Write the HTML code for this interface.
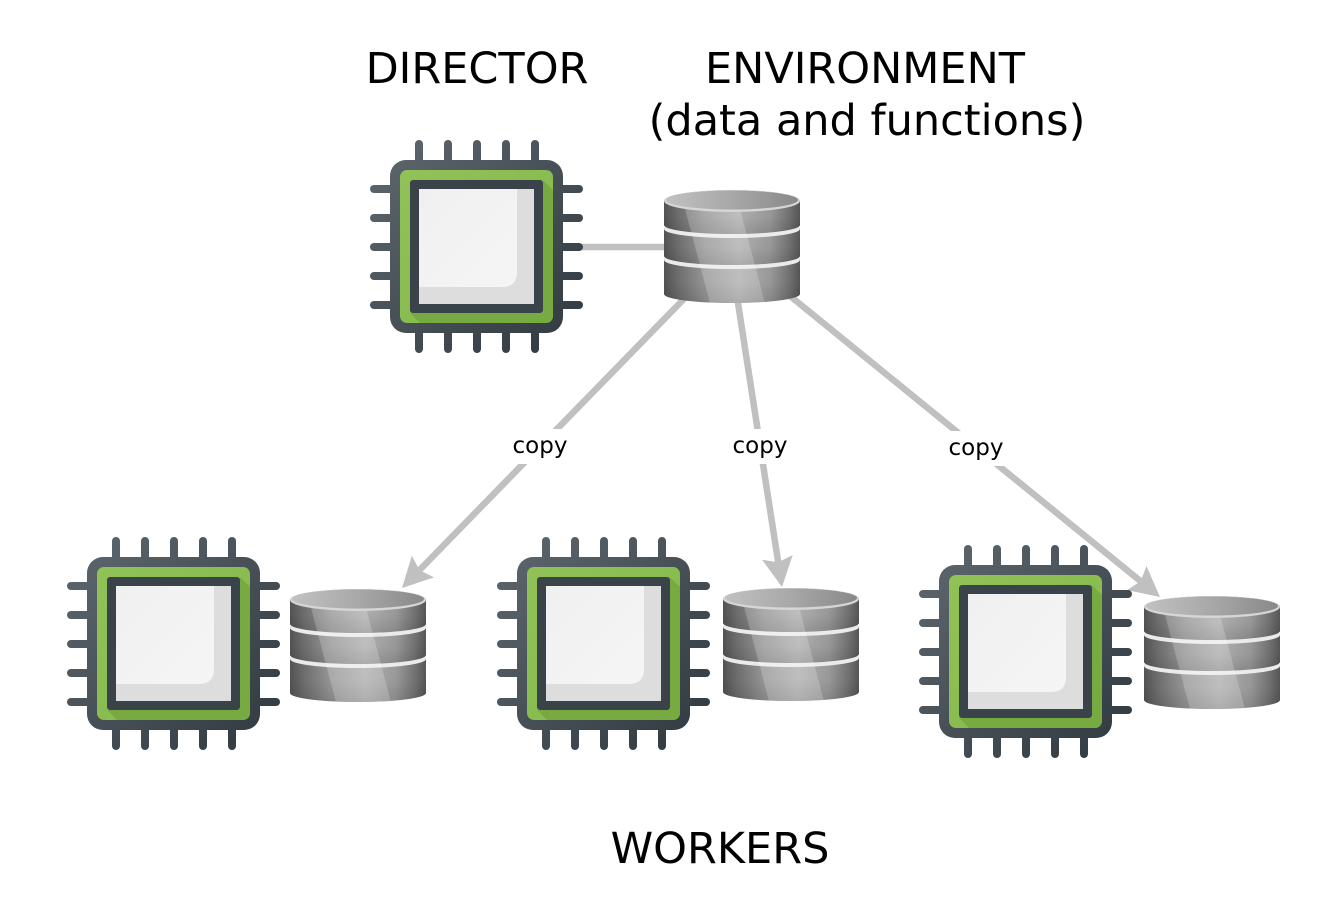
<!DOCTYPE html>
<html>
<head>
<meta charset="utf-8">
<style>
  html, body { margin: 0; padding: 0; background: #ffffff; }
  svg { display: block; }
  text { font-family: "DejaVu Sans", "Liberation Sans", sans-serif; fill: #000; }
</style>
</head>
<body>
<svg width="1319" height="909" viewBox="0 0 1319 909" xmlns="http://www.w3.org/2000/svg">
  <defs>
    <linearGradient id="darkGrad" gradientUnits="userSpaceOnUse" x1="-20" y1="-20" x2="193" y2="193">
      <stop offset="0" stop-color="#5f686f"/>
      <stop offset="1" stop-color="#2f383f"/>
    </linearGradient>
    <linearGradient id="greenGrad" gradientUnits="userSpaceOnUse" x1="10" y1="10" x2="163" y2="163">
      <stop offset="0" stop-color="#90c257"/>
      <stop offset="1" stop-color="#84b84b"/>
    </linearGradient>
    <linearGradient id="lightGrad" gradientUnits="userSpaceOnUse" x1="29" y1="29" x2="127" y2="127">
      <stop offset="0" stop-color="#f0f0f0"/>
      <stop offset="1" stop-color="#f5f5f5"/>
    </linearGradient>
    <clipPath id="greenClip">
      <rect x="10" y="10" width="153" height="153" rx="7"/>
    </clipPath>

    <g id="cpu">
      <g stroke="url(#darkGrad)" stroke-width="8" stroke-linecap="round">
        <line x1="29" y1="-16" x2="29" y2="10"/>
        <line x1="58" y1="-16" x2="58" y2="10"/>
        <line x1="87" y1="-16" x2="87" y2="10"/>
        <line x1="116" y1="-16" x2="116" y2="10"/>
        <line x1="145" y1="-16" x2="145" y2="10"/>
        <line x1="29" y1="163" x2="29" y2="189"/>
        <line x1="58" y1="163" x2="58" y2="189"/>
        <line x1="87" y1="163" x2="87" y2="189"/>
        <line x1="116" y1="163" x2="116" y2="189"/>
        <line x1="145" y1="163" x2="145" y2="189"/>
        <line x1="-16" y1="29" x2="10" y2="29"/>
        <line x1="-16" y1="58" x2="10" y2="58"/>
        <line x1="-16" y1="87" x2="10" y2="87"/>
        <line x1="-16" y1="116" x2="10" y2="116"/>
        <line x1="-16" y1="145" x2="10" y2="145"/>
        <line x1="163" y1="29" x2="189" y2="29"/>
        <line x1="163" y1="58" x2="189" y2="58"/>
        <line x1="163" y1="87" x2="189" y2="87"/>
        <line x1="163" y1="116" x2="189" y2="116"/>
        <line x1="163" y1="145" x2="189" y2="145"/>
      </g>
      <rect x="0" y="0" width="173" height="173" rx="16" fill="url(#darkGrad)"/>
      <rect x="10" y="10" width="153" height="153" rx="7" fill="url(#greenGrad)"/>
      <polygon points="20,153 30,163 163,163 163,30 153,20 153,153" fill="#78aa42" clip-path="url(#greenClip)"/>
      <rect x="20" y="20" width="133" height="133" rx="3" fill="#3a434a"/>
      <rect x="29" y="29" width="115" height="115" fill="#dddddd"/>
      <path d="M29,29 H127 V112 Q127,127 112,127 H29 Z" fill="url(#lightGrad)"/>
    </g>

    <linearGradient id="sideGrad" gradientUnits="userSpaceOnUse" x1="0" y1="0" x2="136" y2="0">
      <stop offset="0" stop-color="#545454"/>
      <stop offset="0.1" stop-color="#6f6f6f"/>
      <stop offset="0.3" stop-color="#999999"/>
      <stop offset="0.55" stop-color="#b3b3b3"/>
      <stop offset="0.78" stop-color="#9c9c9c"/>
      <stop offset="0.92" stop-color="#747474"/>
      <stop offset="1" stop-color="#575757"/>
    </linearGradient>
    <linearGradient id="topGrad" gradientUnits="userSpaceOnUse" x1="0" y1="0" x2="136" y2="0">
      <stop offset="0" stop-color="#c2c2c2"/>
      <stop offset="0.5" stop-color="#a8a8a8"/>
      <stop offset="1" stop-color="#888888"/>
    </linearGradient>
    <linearGradient id="shadeV" x1="0" y1="0" x2="0" y2="1">
      <stop offset="0" stop-color="#000" stop-opacity="0"/>
      <stop offset="0.6" stop-color="#000" stop-opacity="0.03"/>
      <stop offset="1" stop-color="#000" stop-opacity="0.14"/>
    </linearGradient>
    <clipPath id="sideClip">
      <path d="M0,70 L0,104 A68,9 0 0 0 136,104 L136,70 A68,9 0 0 0 0,70 Z"/>
      <path d="M0,39 L0,66 A68,9 0 0 0 136,66 L136,39 A68,9 0 0 0 0,39 Z"/>
      <path d="M0,11 L0,35 A68,9 0 0 0 136,35 L136,11 A68,11 0 0 0 0,11 Z"/>
    </clipPath>

    <g id="db">
      <!-- seg3 -->
      <path d="M0,70 L0,104 A68,9 0 0 0 136,104 L136,70 A68,9 0 0 0 0,70 Z" fill="url(#sideGrad)"/>
      <path d="M0,70 L0,104 A68,9 0 0 0 136,104 L136,70 A68,9 0 0 0 0,70 Z" fill="url(#shadeV)"/>
      <ellipse cx="68" cy="70" rx="68" ry="9" fill="#ebebeb"/>
      <!-- seg2 -->
      <path d="M0,39 L0,66 A68,9 0 0 0 136,66 L136,39 A68,9 0 0 0 0,39 Z" fill="url(#sideGrad)"/>
      <path d="M0,39 L0,66 A68,9 0 0 0 136,66 L136,39 A68,9 0 0 0 0,39 Z" fill="url(#shadeV)"/>
      <ellipse cx="68" cy="39" rx="68" ry="9" fill="#ebebeb"/>
      <!-- seg1 -->
      <path d="M0,11 L0,35 A68,9 0 0 0 136,35 L136,11 A68,11 0 0 0 0,11 Z" fill="url(#sideGrad)"/>
      <path d="M0,11 L0,35 A68,9 0 0 0 136,35 L136,11 A68,11 0 0 0 0,11 Z" fill="url(#shadeV)"/>
      <polygon points="16,0 71,0 101,113 46,113" fill="#ffffff" fill-opacity="0.2" clip-path="url(#sideClip)"/>
      <ellipse cx="68" cy="11" rx="68" ry="11" fill="#d6d6d6"/>
      <ellipse cx="68" cy="10" rx="66" ry="9.5" fill="url(#topGrad)"/>
    </g>
  </defs>

  <!-- Titles -->
  <text x="477" y="83" font-size="43" text-anchor="middle">DIRECTOR</text>
  <text x="865" y="83" font-size="43" text-anchor="middle">ENVIRONMENT</text>
  <text x="867" y="135" font-size="43" text-anchor="middle">(data and functions)</text>
  <text x="720" y="863" font-size="43" text-anchor="middle">WORKERS</text>

  <!-- Connectors -->
  <g stroke="#c0c0c0" stroke-width="6.5" fill="none">
    <line x1="580" y1="247" x2="670" y2="247"/>
    <line x1="684.8" y1="298" x2="419.5" y2="570.1"/>
    <line x1="737.2" y1="298" x2="778.2" y2="562.3"/>
    <line x1="785" y1="291.9" x2="1140.6" y2="581.2"/>
  </g>
  <g fill="#c0c0c0">
    <polygon points="402,588 434.05,577.34 419.46,570.10 411.85,555.70"/>
    <polygon points="782,587 792.73,554.98 778.17,562.30 762.09,559.72"/>
    <polygon points="1160,597 1126.95,590.09 1140.61,581.22 1146.51,566.05"/>
  </g>

  <!-- Labels -->
  <rect x="509" y="429" width="62" height="35" fill="#ffffff"/>
  <rect x="729" y="429" width="62" height="35" fill="#ffffff"/>
  <rect x="945" y="431" width="62" height="35" fill="#ffffff"/>
  <text x="540" y="453" font-size="23" text-anchor="middle">copy</text>
  <text x="760" y="453" font-size="23" text-anchor="middle">copy</text>
  <text x="976" y="455" font-size="23" text-anchor="middle">copy</text>

  <!-- Director -->
  <use href="#cpu" transform="translate(390,160)"/>
  <use href="#db" transform="translate(664,190)"/>

  <!-- Workers -->
  <use href="#cpu" transform="translate(87,557)"/>
  <use href="#db" transform="translate(290,589)"/>

  <use href="#cpu" transform="translate(517,557)"/>
  <use href="#db" transform="translate(723,588)"/>

  <use href="#cpu" transform="translate(939,565)"/>
  <use href="#db" transform="translate(1144,596)"/>
</svg>
</body>
</html>
